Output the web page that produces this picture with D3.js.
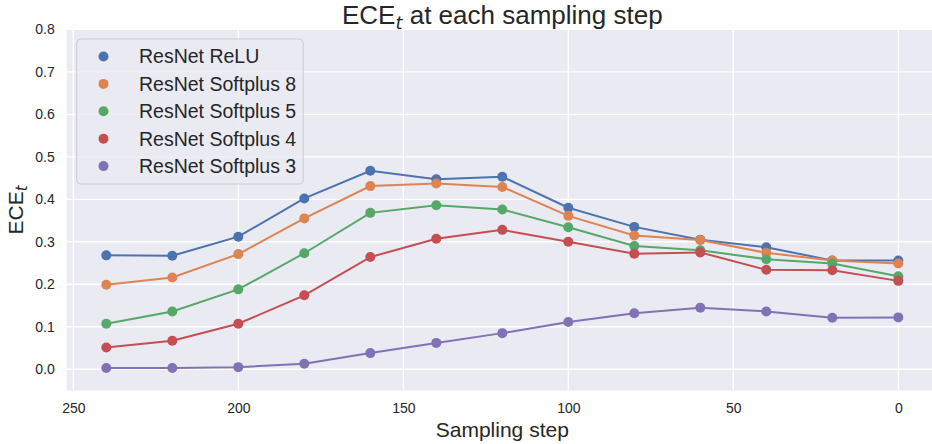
<!DOCTYPE html>
<html>
<head>
<meta charset="utf-8">
<script src="https://cdn.jsdelivr.net/npm/d3@7"></script>
<style>
  body { margin: 0; background: #fff; }
  svg { display: block; font-family: "Liberation Sans", Arial, sans-serif; }
</style>
</head>
<body>
<div id="chart"></div>
<script>
// sampling steps (x) and ECE values per model
const steps = [240, 220, 200, 180, 160, 140, 120, 100, 80, 60, 40, 20, 0];
const seriesNames = ['ResNet ReLU', 'ResNet Softplus 8', 'ResNet Softplus 5', 'ResNet Softplus 4', 'ResNet Softplus 3'];
const reluValues = [0.268, 0.267, 0.312, 0.402, 0.467, 0.447, 0.453, 0.380, 0.335, 0.305, 0.287, 0.256, 0.256];
const softplus8Values = [0.199, 0.216, 0.271, 0.355, 0.431, 0.437, 0.429, 0.361, 0.315, 0.304, 0.274, 0.256, 0.249];
const softplus5Values = [0.107, 0.136, 0.188, 0.273, 0.368, 0.386, 0.376, 0.334, 0.290, 0.280, 0.259, 0.249, 0.219];
const softplus4Values = [0.051, 0.067, 0.107, 0.174, 0.264, 0.307, 0.328, 0.300, 0.272, 0.275, 0.234, 0.233, 0.208];
const softplus3Values = [0.003, 0.003, 0.005, 0.013, 0.038, 0.062, 0.085, 0.111, 0.132, 0.145, 0.136, 0.121, 0.122];
const xTicks = [250, 200, 150, 100, 50, 0];
const yTicks = [0, 0.1, 0.2, 0.3, 0.4, 0.5, 0.6, 0.7, 0.8];

const colors = ['#4c72b0', '#dd8452', '#55a868', '#c44e52', '#8172b3'];
const allValues = [reluValues, softplus8Values, softplus5Values, softplus4Values, softplus3Values];

const width = 932, height = 444;
const svg = d3.select('#chart').append('svg')
    .attr('width', width)
    .attr('height', height);

// axes area (the right side runs past the picture edge, as in the original)
const x = d3.scaleLinear().domain([252, -12]).range([66.7, 937.9]);
const y = d3.scaleLinear().domain([-0.05, 0.8]).range([390.5, 29.3]);

svg.append('rect')
    .attr('x', x(252)).attr('y', y(0.8))
    .attr('width', x(-12) - x(252))
    .attr('height', y(-0.05) - y(0.8))
    .attr('fill', '#eaeaf2');

// grid
const grid = svg.append('g').attr('class', 'grid');
grid.selectAll('line.gx').data(xTicks).enter().append('line')
    .attr('x1', d => x(d)).attr('x2', d => x(d))
    .attr('y1', y(0.8)).attr('y2', y(-0.05))
    .attr('stroke', '#fff').attr('stroke-width', 1.3);
grid.selectAll('line.gy').data(yTicks).enter().append('line')
    .attr('x1', x(252)).attr('x2', x(-12))
    .attr('y1', d => y(d)).attr('y2', d => y(d))
    .attr('stroke', '#fff').attr('stroke-width', 1.3);

// tick labels via d3 axes, no tick lines
const xAxis = svg.append('g')
    .attr('transform', 'translate(0,' + y(-0.05) + ')')
    .call(d3.axisBottom(x).tickValues(xTicks).tickSize(0).tickPadding(13));
const yAxis = svg.append('g')
    .attr('transform', 'translate(' + x(252) + ',0)')
    .call(d3.axisLeft(y).tickValues(yTicks).tickFormat(d3.format('.1f')).tickSize(0).tickPadding(12));
[xAxis, yAxis].forEach(a => {
  a.select('.domain').remove();
  a.selectAll('text')
      .attr('fill', '#262626')
      .style('font-size', '14px')
      .style('font-family', '"Liberation Sans", Arial, sans-serif');
});

// series lines and markers
const line = d3.line()
    .x((d, i) => x(steps[i]))
    .y(d => y(d));

allValues.forEach(function(vals, k) {
  const g = svg.append('g').attr('class', 'series');
  g.append('path')
      .attr('d', line(vals))
      .attr('fill', 'none')
      .attr('stroke', colors[k])
      .attr('stroke-width', 2);
  g.selectAll('circle').data(vals).enter().append('circle')
      .attr('cx', (d, i) => x(steps[i]))
      .attr('cy', d => y(d))
      .attr('r', 5)
      .attr('fill', colors[k]);
});

// legend
const legend = svg.append('g').attr('class', 'legend');
legend.append('rect')
    .attr('x', 76.7).attr('y', 39)
    .attr('width', 226.5).attr('height', 145)
    .attr('rx', 4)
    .attr('fill', '#eaeaf2').attr('fill-opacity', 0.8)
    .attr('stroke', '#cccccc').attr('stroke-width', 1);
seriesNames.forEach(function(name, k) {
  const ly = 56.5 + k * 27.4;
  legend.append('circle')
      .attr('cx', 103.5).attr('cy', ly).attr('r', 5)
      .attr('fill', colors[k]);
  legend.append('text')
      .attr('x', 139).attr('y', ly)
      .attr('dy', '0.35em')
      .attr('fill', '#262626')
      .style('font-size', '19.5px')
      .text(name);
});

// title and axis labels
const title = svg.append('text')
    .attr('x', (x(252) + x(-12)) / 2).attr('y', 24)
    .attr('text-anchor', 'middle')
    .attr('fill', '#262626')
    .style('font-size', '26px');
title.append('tspan').text('ECE');
title.append('tspan').attr('dy', 5).style('font-style', 'italic').style('font-size', '18px')
    .style('font-family', '"DejaVu Sans", sans-serif').text('t');
title.append('tspan').attr('dy', -5).text(' at each sampling step');

svg.append('text')
    .attr('x', (x(252) + x(-12)) / 2).attr('y', 437)
    .attr('text-anchor', 'middle')
    .attr('fill', '#262626')
    .style('font-size', '21px')
    .text('Sampling step');

const ylab = svg.append('text')
    .attr('transform', 'translate(23,' + ((y(0.8) + y(-0.05)) / 2) + ') rotate(-90)')
    .attr('text-anchor', 'middle')
    .attr('fill', '#262626')
    .style('font-size', '21px');
ylab.append('tspan').text('ECE');
ylab.append('tspan').attr('dy', 4).style('font-style', 'italic').style('font-size', '15px')
    .style('font-family', '"DejaVu Sans", sans-serif').text('t');
</script>
</body>
</html>
